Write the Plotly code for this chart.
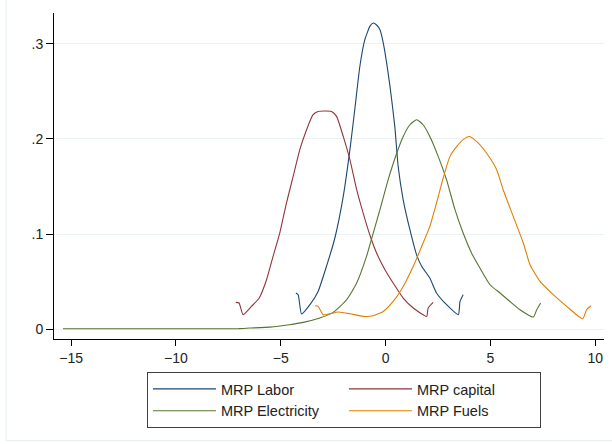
import plotly.graph_objects as go

# MRP Labor
labor_x = [-4.28, -4.17, -4.01, -3.61, -3.22, -2.82, -2.42, -2.02, -1.70, -1.47, -1.23, -0.99,
           -0.75, -0.59, -0.43, -0.27, -0.11, 0.21, 0.44, 0.60, 0.84, 1.16, 1.48, 1.72, 2.11,
           2.43, 2.91, 3.47, 3.55, 3.70]
labor_y = [0.0379, 0.0360, 0.0158, 0.0256, 0.0396, 0.0660, 0.0958, 0.1396, 0.1890, 0.2310,
           0.2760, 0.3045, 0.3185, 0.3220, 0.3200, 0.3150, 0.3010, 0.2554, 0.2130, 0.1710,
           0.1360, 0.1045, 0.0780, 0.0660, 0.0537, 0.0379, 0.0256, 0.0150, 0.0290, 0.0361]

# MRP capital
capital_x = [-7.15, -6.99, -6.80, -6.40, -6.03, -5.68, -5.37, -5.05, -4.73, -4.41, -4.09,
             -3.77, -3.46, -3.22, -2.58, -2.34, -2.02, -1.70, -1.38, -1.07, -0.75, -0.43,
             -0.03, 0.36, 0.84, 1.32, 1.96, 2.03, 2.27]
capital_y = [0.0280, 0.0274, 0.0150, 0.0238, 0.0326, 0.0519, 0.0764, 0.1010, 0.1326, 0.1606,
             0.1890, 0.2098, 0.2256, 0.2290, 0.2290, 0.2238, 0.2027, 0.1780, 0.1466, 0.1220,
             0.0990, 0.0800, 0.0624, 0.0484, 0.0326, 0.0221, 0.0133, 0.0221, 0.0280]

# MRP Electricity
elec_x = [-15.39, -12.0, -9.0, -7.0, -6.48, -5.52, -4.60, -3.93, -3.14, -2.50, -1.86, -1.38,
          -0.91, -0.59, -0.27, 0.12, 0.53, 0.84, 1.16, 1.48, 1.79, 2.11, 2.51, 2.91, 3.31,
          3.70, 4.10, 4.50, 4.98, 5.46, 5.93, 6.41, 7.05, 7.21, 7.40]
elec_y = [0.0003, 0.0003, 0.0003, 0.0004, 0.0010, 0.0020, 0.0045, 0.0070, 0.0116, 0.0175,
          0.0308, 0.0484, 0.0764, 0.1010, 0.1256, 0.1570, 0.1850, 0.2027, 0.2150, 0.2203,
          0.2150, 0.2027, 0.1817, 0.1570, 0.1256, 0.1010, 0.0800, 0.0642, 0.0466, 0.0379,
          0.0290, 0.0203, 0.0126, 0.0203, 0.0274]

# MRP Fuels
fuels_x = [-3.37, -3.22, -2.98, -2.66, -2.26, -1.70, -1.07, -0.59, -0.11, 0.36, 0.84, 1.32,
           1.79, 2.11, 2.43, 2.75, 3.07, 3.39, 3.70, 3.99, 4.34, 4.82, 5.30, 5.61, 6.09, 6.57,
           6.89, 7.37, 8.00, 8.64, 9.40, 9.59, 9.79]
fuels_y = [0.0245, 0.0238, 0.0150, 0.0161, 0.0179, 0.0161, 0.0133, 0.0140, 0.0185, 0.0290,
           0.0448, 0.0660, 0.0905, 0.1080, 0.1326, 0.1590, 0.1817, 0.1920, 0.1993, 0.2027,
           0.1975, 0.1850, 0.1677, 0.1466, 0.1185, 0.0905, 0.0677, 0.0501, 0.0361, 0.0238,
           0.0108, 0.0203, 0.0245]

x_ticks = [-15, -10, -5, 0, 5, 10]
y_ticks = [0, 0.1, 0.2, 0.3]
y_ticklabels = ["0", ".1", ".2", ".3"]

series = [
    ("MRP Labor", labor_x, labor_y, "#1a476f"),
    ("MRP capital", capital_x, capital_y, "#90353b"),
    ("MRP Electricity", elec_x, elec_y, "#55752f"),
    ("MRP Fuels", fuels_x, fuels_y, "#e37e00"),
]

fig = go.Figure()
for name, xs, ys, col in series:
    fig.add_trace(go.Scatter(x=xs, y=ys, mode="lines", name=name,
                             line=dict(color=col, width=1.1, shape="spline", smoothing=0.5)))

font = dict(family="Liberation Sans, Arial, sans-serif", size=14, color="#222222")

fig.update_layout(
    width=612, height=444, autosize=False,
    margin=dict(l=54, r=8, t=13, b=105),
    paper_bgcolor="white", plot_bgcolor="white",
    font=font,
    showlegend=True,
    legend=dict(
        orientation="h", x=0.169, xanchor="left", y=-0.101, yanchor="top",
        bordercolor="#404040", borderwidth=1, bgcolor="white",
        itemwidth=63,
        entrywidth=118, entrywidthmode="pixels",
        font=dict(family="Liberation Sans, Arial, sans-serif", size=14.5, color="#222222"),
        traceorder="normal",
    ),
    xaxis=dict(
        range=[-15.82, 10.42], tickvals=x_ticks, showgrid=False, zeroline=False,
        showline=True, linecolor="black", linewidth=1,
        ticks="outside", ticklen=6, tickcolor="black", tickwidth=1,
        tickfont=font,
    ),
    yaxis=dict(
        range=[-0.0105, 0.3326], tickvals=y_ticks, ticktext=y_ticklabels,
        showgrid=True, gridcolor="#eaf2f3", gridwidth=1, zeroline=False,
        showline=True, linecolor="black", linewidth=1,
        ticks="outside", ticklen=7, tickcolor="black", tickwidth=1,
        tickfont=font,
    ),
)

# faint outer graph-region border (left and bottom edges visible)
fig.add_shape(type="line", xref="paper", yref="paper", x0=-0.087, x1=-0.087, y0=-0.312, y1=1.05,
              line=dict(color="#e6eef0", width=1))
fig.add_shape(type="line", xref="paper", yref="paper", x0=-0.087, x1=1.02, y0=-0.312, y1=-0.312,
              line=dict(color="#e6eef0", width=1))

fig.write_html("out.html")
